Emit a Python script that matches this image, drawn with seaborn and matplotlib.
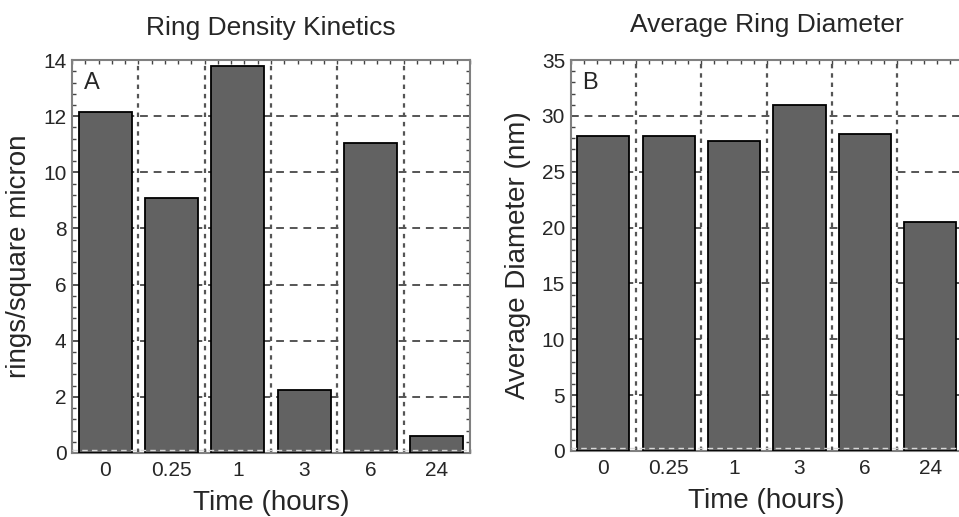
import matplotlib
matplotlib.use("Agg")
import matplotlib.pyplot as plt
from matplotlib.ticker import MultipleLocator, FixedLocator
import seaborn as sns
import pandas as pd
import numpy as np

# values
times = ["0", "0.25", "1", "3", "6", "24"]
ring_density = [12.15, 9.1, 13.8, 2.25, 11.05, 0.6]
ring_diameter = [28.2, 28.2, 27.8, 31.0, 28.4, 20.5]

sns.set_style("white")
plt.rcParams['font.family'] = ['Liberation Sans', 'DejaVu Sans']

bar_color = "#626262"
grid_color = "#555555"
spine_color = "#808080"

fig = plt.figure(figsize=(9.59, 5.17), dpi=100)
axA = fig.add_axes([0.0751, 0.1238, 0.415, 0.760])
axB = fig.add_axes([0.595, 0.1277, 0.409, 0.756])


def draw_panel(ax, values, ymax, ystep, yminor, title, ylabel, letter, title_pad):
    df = pd.DataFrame({'time': times, 'value': values})
    sns.barplot(data=df, x='time', y='value', order=times, color=bar_color,
                edgecolor='black', linewidth=1.3, width=0.8, saturation=1,
                ax=ax, zorder=3)
    ax.set_xlim(-0.5, len(times) - 0.5)
    ax.set_ylim(0, ymax)
    ax.yaxis.set_major_locator(MultipleLocator(ystep))
    ax.yaxis.set_minor_locator(MultipleLocator(yminor))
    ax.xaxis.set_minor_locator(FixedLocator(np.arange(-0.5, len(times), 0.2)))

    # grid: horizontal dashed at y ticks, vertical dashed at category borders
    for yv in np.arange(ystep, ymax, ystep):
        ax.axhline(yv, color=grid_color, lw=1.4, ls=(0, (4, 3)), zorder=1)
    for xv in np.arange(0.5, len(times) - 0.5, 1.0):
        ax.axvline(xv, color=grid_color, lw=1.6, ls=(0, (2, 2.2)), zorder=1)
    ax.axhline(ymax * 0.008, color='#d8d8d8', lw=1.0, ls=(0, (4, 3)), zorder=4)

    for s in ax.spines.values():
        s.set_color(spine_color)
        s.set_linewidth(1.5)
    ax.tick_params(axis='y', which='major', direction='in', length=5, width=1.2,
                   color='#444444', left=True, right=True, labelsize=15, pad=4)
    ax.tick_params(axis='y', which='minor', direction='in', length=3, width=1.0,
                   color='#444444', left=True, right=True)
    ax.tick_params(axis='x', which='major', length=0, labelsize=15, pad=6)
    ax.tick_params(axis='x', which='minor', direction='in', length=3, width=1.0,
                   color='#444444', bottom=True, top=True)

    ax.set_title(title, fontsize=19, pad=title_pad)
    ax.set_xlabel("Time (hours)", fontsize=20, labelpad=7)
    ax.set_ylabel(ylabel, fontsize=20, labelpad=8)
    ax.text(0.03, 0.97, letter, transform=ax.transAxes, fontsize=17,
            ha='left', va='top', zorder=5)


draw_panel(axA, ring_density, 14, 2, 0.4, "Ring Density Kinetics",
           "rings/square micron", "A", 18)
draw_panel(axB, ring_diameter, 35, 5, 1, "Average Ring Diameter",
           "Average Diameter (nm)", "B", 20)

fig.savefig("out.png", dpi=100)
